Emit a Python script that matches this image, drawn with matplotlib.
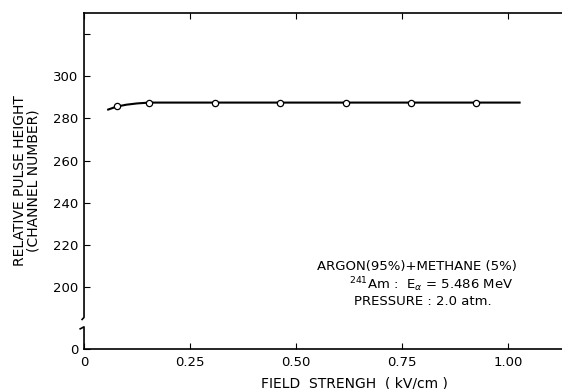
import matplotlib
matplotlib.use('Agg')
import matplotlib.pyplot as plt
from matplotlib.lines import Line2D

# measured points (open circles)
field = [0.077, 0.154, 0.309, 0.463, 0.617, 0.771, 0.925]
pulse = [285.8, 287.5, 287.5, 287.5, 287.5, 287.5, 287.5]

# smooth curve drawn through the points
curve_x = [0.057, 0.077, 0.100, 0.125, 0.154, 0.309, 0.463, 0.617, 0.771, 0.925, 1.027]
curve_y = [284.2, 285.6, 286.5, 287.1, 287.5, 287.5, 287.5, 287.5, 287.5, 287.5, 287.5]

xticks = [0, 0.25, 0.50, 0.75, 1.00]
xlabels = ['0', '0.25', '0.50', '0.75', '1.00']
yticks = [200, 220, 240, 260, 280, 300, 320]
ylabels = ['200', '220', '240', '260', '280', '300', '']
y_bottom = 170.6   # drawn as "0" below the axis break
y_top = 330

plt.rcParams['font.family'] = ['DejaVu Sans']
fig = plt.figure(figsize=(5.62, 3.89), dpi=100)
ax = fig.add_axes([0.1495, 0.1028, 0.8505, 0.8638])

ax.plot(curve_x, curve_y, color='black', lw=1.5, zorder=2)
ax.plot(field, pulse, 'o', ms=4.5, mfc='white', mec='black', mew=0.9, zorder=3)

ax.set_xlim(0, 1.127)
ax.set_ylim(y_bottom, y_top)

ax.set_xticks(xticks)
ax.set_xticklabels(xlabels, fontsize=9.5)
ax.set_yticks(yticks + [y_bottom])
ax.set_yticklabels(ylabels + ['0'], fontsize=9.5)
ax.tick_params(direction='in', length=4, width=0.8, top=True, pad=4)
ax.tick_params(axis='x', pad=5)

ax.spines['right'].set_visible(False)
ax.spines['left'].set_visible(False)
ax.spines['top'].set_linewidth(1.2)
ax.spines['bottom'].set_linewidth(1.2)

# broken left axis
tr = ax.transAxes
ax.add_line(Line2D([0, 0, -0.004], [1, 0.094, 0.088], transform=tr, color='black',
                   lw=1.2, clip_on=False))
ax.add_line(Line2D([-0.008, 0, 0], [0.060, 0.066, 0], transform=tr, color='black',
                   lw=1.2, clip_on=False))

ax.set_ylabel('RELATIVE PULSE HEIGHT\n(CHANNEL NUMBER)', fontsize=10, labelpad=9,
              linespacing=1.0)
ax.text(0.637, -0.102, 'FIELD  STRENGH  ( kV/cm )', transform=ax.get_xaxis_transform(),
        ha='center', va='center', fontsize=10)

ax.text(0.697, 0.245, 'ARGON(95%)+METHANE (5%)', transform=tr, ha='center', va='center', fontsize=9.5)
ax.text(0.726, 0.193, r'$^{241}$Am :  E$_\alpha$ = 5.486 MeV', transform=tr, ha='center',
        va='center', fontsize=9.5)
ax.text(0.709, 0.14, 'PRESSURE : 2.0 atm.', transform=tr, ha='center', va='center', fontsize=9.5)

plt.savefig('out.png', dpi=100)
